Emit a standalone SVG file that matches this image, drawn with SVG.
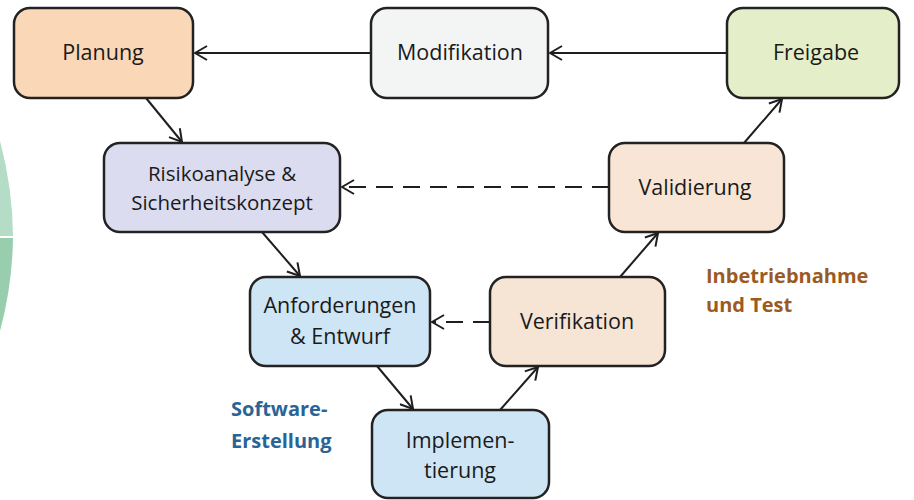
<svg xmlns="http://www.w3.org/2000/svg" width="914" height="500" viewBox="0 0 914 500">
<style>
.node rect{stroke:#222222;stroke-width:2.5}
.node text{font-family:"Open Sans","Liberation Sans",Arial,sans-serif;font-size:21.5px;fill:#1a1a1a;text-anchor:middle}
.node text.sm{font-size:20.5px}
.conn line{stroke:#1e1e1e;stroke-width:2;fill:none}
.dash{stroke-dasharray:17 10;stroke-width:2.6}
.lbl{font-family:"Open Sans","Liberation Sans",Arial,sans-serif;font-size:20px;font-weight:bold}
</style>
<defs>
<marker id="arr" viewBox="0 0 14 16" refX="13" refY="8" markerWidth="14" markerHeight="16" markerUnits="userSpaceOnUse" orient="auto">
<path d="M1,1 L13,8 L1,15" fill="none" stroke="#1e1e1e" stroke-width="2"/>
</marker>
</defs>
<rect width="914" height="500" fill="#ffffff"/>
<g id="deco">
<path d="M0,141 A376,376 0 0 1 13,236 L0,236 Z" fill="#b5dcc6"/>
<path d="M0,238 L13,238 A376,376 0 0 1 0,331 Z" fill="#98ceae"/>
</g>
<g class="conn" id="connectors">
<line x1="371" y1="53" x2="195" y2="53" marker-end="url(#arr)"/>
<line x1="727" y1="53" x2="550" y2="53" marker-end="url(#arr)"/>
<line x1="146" y1="98" x2="182" y2="142" marker-end="url(#arr)"/>
<line x1="262" y1="232" x2="300" y2="276" marker-end="url(#arr)"/>
<line x1="377" y1="366" x2="413" y2="409" marker-end="url(#arr)"/>
<line x1="500" y1="410" x2="538" y2="367" marker-end="url(#arr)"/>
<line x1="620" y1="277" x2="658" y2="233" marker-end="url(#arr)"/>
<line x1="744" y1="143" x2="782" y2="99" marker-end="url(#arr)"/>
<line class="dash" x1="609" y1="187" x2="342" y2="187" marker-end="url(#arr)"/>
<line class="dash" x1="490" y1="322" x2="432" y2="322" marker-end="url(#arr)"/>
</g>
<g class="node" id="planung"><rect x="14" y="8" width="179" height="90" rx="16" fill="#fad7b6"/><text x="103" y="60">Planung</text></g>
<g class="node" id="modifikation"><rect x="371" y="8" width="177" height="90" rx="16" fill="#f3f5f5"/><text x="460" y="60">Modifikation</text></g>
<g class="node" id="freigabe"><rect x="727" y="8" width="172" height="90" rx="16" fill="#e4efca"/><text x="816" y="60">Freigabe</text></g>
<g class="node" id="risiko"><rect x="104" y="143" width="236" height="89" rx="16" fill="#dcdcf0"/><text class="sm" x="222" y="181">Risikoanalyse &amp;</text><text class="sm" x="222" y="210">Sicherheitskonzept</text></g>
<g class="node" id="validierung"><rect x="609" y="143" width="175" height="89" rx="16" fill="#f8e5d5"/><text x="695" y="195">Validierung</text></g>
<g class="node" id="anforderungen"><rect x="250" y="277" width="180" height="89" rx="16" fill="#cee5f5"/><text x="340" y="313">Anforderungen</text><text x="340" y="344">&amp; Entwurf</text></g>
<g class="node" id="verifikation"><rect x="490" y="277" width="175" height="89" rx="16" fill="#f6e4d4"/><text x="577" y="329">Verifikation</text></g>
<g class="node" id="implementierung"><rect x="372" y="410" width="177" height="88" rx="16" fill="#cee5f5"/><text x="460" y="448">Implemen-</text><text x="460" y="478">tierung</text></g>
<g id="labels">
<text class="lbl" x="231" y="416" fill="#2a6496">Software-</text>
<text class="lbl" x="231" y="448" fill="#2a6496">Erstellung</text>
<text class="lbl" x="706" y="283" fill="#9c5a22">Inbetriebnahme</text>
<text class="lbl" x="706" y="312" fill="#9c5a22">und Test</text>
</g>
</svg>
